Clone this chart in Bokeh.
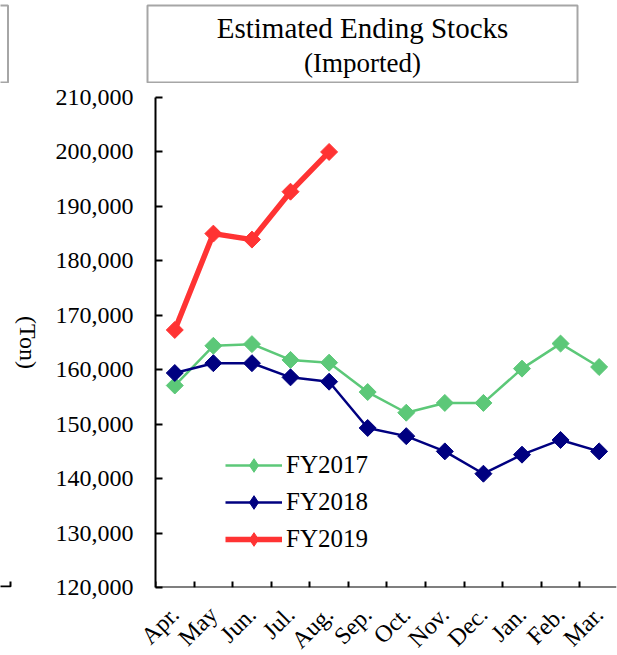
import math
from bokeh.plotting import figure
from bokeh.layouts import column, row
from bokeh.models import Range1d, FixedTicker, NumeralTickFormatter, Legend, LegendItem
from bokeh.core.properties import value
from bokeh.embed import file_html
from bokeh.resources import INLINE

# ---- data ----
months = ["Apr.", "May", "Jun.", "Jul.", "Aug.", "Sep.", "Oct.", "Nov.", "Dec.", "Jan.", "Feb.", "Mar."]
fy2017 = [157100, 164400, 164700, 161800, 161300, 155900, 152100, 153900, 153900, 160200, 164800, 160500]
fy2018 = [159400, 161200, 161200, 158600, 157800, 149300, 147800, 145000, 140900, 144400, 147100, 145000]
fy2019 = [167300, 185000, 183900, 192700, 200000]
y_ticks = [120000, 130000, 140000, 150000, 160000, 170000, 180000, 190000, 200000, 210000]
series_names = ["FY2017", "FY2018", "FY2019"]
title_lines = ["Estimated Ending Stocks", "(Imported)"]
y_unit = "(Ton)"

FONT = "Liberation Serif"
GREEN = "#5CC878"
NAVY = "#000080"
RED = "#FF3333"
BOXGREY = "#A6A6A6"

W, H = 617, 655
TOP_H = 83          # title strip height
BOT_H = 54          # month-label strip height
LEFT_W = 50         # unit-label strip width
BORDER_TOP = 14
BORDER_BOTTOM = 14
BORDER_LEFT = 105
BORDER_RIGHT = 1
X_LO, X_HI = -0.5, 11.45


def bare(width, height, xr, yr, **kw):
    f = figure(width=width, height=height, x_range=Range1d(*xr), y_range=Range1d(*yr),
               x_axis_location=None, y_axis_location=None,
               output_backend="svg", toolbar_location=None, **kw)
    f.outline_line_color = None
    f.xgrid.grid_line_color = None
    f.ygrid.grid_line_color = None
    f.border_fill_color = "white"
    f.background_fill_color = "white"
    return f


# ---- title strip (y measured upward from the strip bottom) ----
top = bare(W, TOP_H, (0, W), (0, TOP_H), min_border=0)
top.quad(left=[147, -20], right=[577, 7.5], top=[TOP_H - 5] * 2, bottom=[1, 1],
         fill_color=None, line_color=BOXGREY, line_width=2)
top.text(x=[362], y=[TOP_H - 27], text=[title_lines[0]], text_align="center",
         text_baseline="middle", text_font=value(FONT), text_font_size="29px",
         text_color="black")
top.text(x=[362], y=[TOP_H - 62], text=[title_lines[1]], text_align="center",
         text_baseline="middle", text_font=value(FONT), text_font_size="27px",
         text_color="black")

# ---- middle row ----
mid_h = H - TOP_H - BOT_H
frame_h = mid_h - BORDER_TOP - BORDER_BOTTOM
side = bare(LEFT_W, mid_h, (0, LEFT_W), (0, frame_h),
            min_border_left=0, min_border_right=0,
            min_border_top=BORDER_TOP, min_border_bottom=BORDER_BOTTOM)
side.text(x=[27], y=[245], text=[y_unit], angle=-math.pi / 2, text_align="center",
          text_baseline="middle", text_font=value(FONT), text_font_size="24px",
          text_color="black")
side.line(x=[-5, 10, 10], y=[1, 1, 6], line_color="black", line_width=2)

x_idx = list(range(len(months)))
main_w = W - LEFT_W
p = figure(width=main_w, height=mid_h,
           x_range=Range1d(X_LO, X_HI), y_range=Range1d(y_ticks[0], y_ticks[-1]),
           min_border_left=BORDER_LEFT, min_border_right=BORDER_RIGHT,
           min_border_top=BORDER_TOP, min_border_bottom=BORDER_BOTTOM,
           output_backend="svg", toolbar_location=None)
p.outline_line_color = None
p.xgrid.grid_line_color = None
p.ygrid.grid_line_color = None
p.background_fill_color = "white"
p.border_fill_color = "white"

xa = p.xaxis[0]
xa.fixed_location = y_ticks[0]   # axis pinned to the frame bottom; ticks at month boundaries
xa.ticker = FixedTicker(ticks=[], minor_ticks=[i + 0.5 for i in range(-1, len(months))])
xa.major_tick_in = 0
xa.major_tick_out = 0
xa.minor_tick_in = 6
xa.minor_tick_out = 0
xa.minor_tick_line_width = 2
xa.minor_tick_line_color = "black"
xa.axis_line_width = 2
xa.axis_line_color = "black"

ya = p.yaxis[0]
ya.ticker = FixedTicker(ticks=y_ticks)
ya.formatter = NumeralTickFormatter(format="0,0")
ya.major_tick_in = 7
ya.major_tick_out = 0
ya.major_tick_line_width = 2
ya.major_tick_line_color = "black"
ya.minor_tick_line_color = None
ya.axis_line_width = 2
ya.axis_line_color = "black"
ya.major_label_standoff = 22
ya.major_label_text_font = FONT
ya.major_label_text_font_size = "24px"
ya.major_label_text_color = "black"

items = []
for vals, name, col, lw in [(fy2017, series_names[0], GREEN, 2.5),
                            (fy2018, series_names[1], NAVY, 2.5),
                            (fy2019, series_names[2], RED, 5.5)]:
    xs = x_idx[:len(vals)]
    r_line = p.line(xs, vals, line_color=col, line_width=lw)
    r_dia = p.scatter(xs, vals, marker="diamond", size=14, fill_color=col, line_color=col)
    p.scatter(xs, vals, marker="square", angle=math.pi / 4, size=12,
              fill_color=col, line_color=col)
    items.append(LegendItem(label=name, renderers=[r_line, r_dia]))

lg = Legend(items=items, location=(70, 31), padding=0, margin=0,
            border_line_color=None, background_fill_alpha=0,
            glyph_width=57, glyph_height=34, label_height=35, spacing=2,
            label_standoff=4, label_text_font=FONT, label_text_font_size="25px",
            label_text_color="black")
p.add_layout(lg, "center")

# ---- month-label strip, same x scale as the main frame ----
frame_w = main_w - BORDER_LEFT - BORDER_RIGHT
px_per_unit = frame_w / (X_HI - X_LO)
frame_left_page = LEFT_W + BORDER_LEFT
bx_lo = X_LO - frame_left_page / px_per_unit
bx_hi = X_HI + (W - frame_left_page - frame_w) / px_per_unit
bottom = bare(W, BOT_H, (bx_lo, bx_hi), (0, BOT_H), min_border=0)
bottom.text(x=x_idx, y=[BOT_H - 9] * len(months), text=months, angle=math.pi / 4,
            text_align="right", text_baseline="middle", text_font=value(FONT),
            text_font_size="24px", text_color="black")

layout = column(top, row(side, p), bottom)
open("out.html", "w").write(file_html(layout, INLINE))
